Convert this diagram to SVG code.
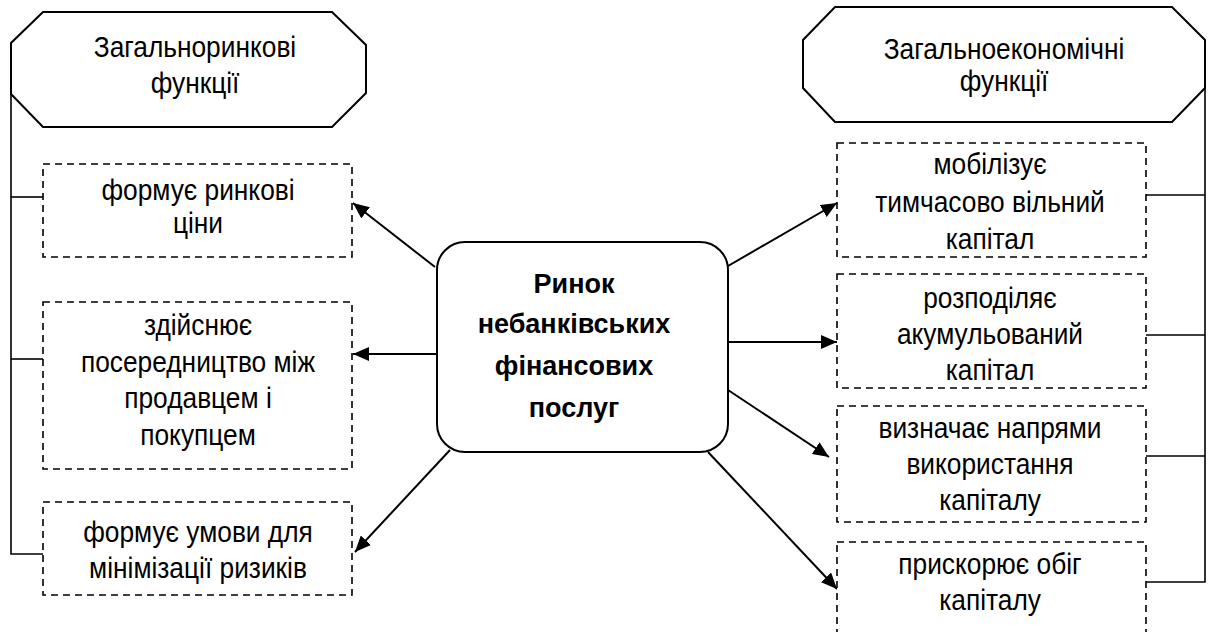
<svg xmlns="http://www.w3.org/2000/svg" width="1208" height="632" viewBox="0 0 1208 632">
<defs>
<style>
.oct{fill:#fff;stroke:#000;stroke-width:2}
.box{fill:#fff;stroke:#000;stroke-width:1.6;stroke-dasharray:7 5}
.core{fill:#fff;stroke:#000;stroke-width:2}
.ln{fill:none;stroke:#000;stroke-width:1.6}
.ar{fill:none;stroke:#000;stroke-width:2;marker-end:url(#ah)}
.t{font-family:"Liberation Sans",Arial,sans-serif;font-size:30px;text-anchor:middle;fill:#000;transform:scaleX(0.877);transform-box:fill-box;transform-origin:center}
.b{font-family:"Liberation Sans",Arial,sans-serif;font-size:27px;font-weight:bold;text-anchor:middle;fill:#000}
</style>
<marker id="ah" markerUnits="userSpaceOnUse" markerWidth="17" markerHeight="14" refX="16" refY="7" orient="auto">
<path d="M0,0 L16,7 L0,14 Z" fill="#000"/>
</marker>
</defs>
<rect width="1208" height="632" fill="#fff"/>
<g id="connectors">
<polyline class="ln" points="43,197 11,197"/>
<polyline class="ln" points="11,69 11,554 43,554"/>
<polyline class="ln" points="11,359 43,359"/>
<polyline class="ln" points="1146,195 1205,195"/>
<polyline class="ln" points="1205,65 1205,582 1146,582"/>
<polyline class="ln" points="1146,335 1205,335"/>
<polyline class="ln" points="1146,456 1205,456"/>
<line class="ar" x1="435" y1="267" x2="353" y2="203"/>
<line class="ar" x1="437" y1="354" x2="353" y2="354"/>
<line class="ar" x1="450" y1="450" x2="355" y2="552"/>
<line class="ar" x1="728" y1="266" x2="837" y2="203"/>
<line class="ar" x1="728" y1="342" x2="837" y2="342"/>
<line class="ar" x1="728" y1="390" x2="829" y2="457"/>
<line class="ar" x1="708" y1="452" x2="837" y2="589"/>
</g>
<g id="general-market">
<polygon class="oct" points="43,12 332,12 366,45 366,93 332,127 43,127 11,94 11,43"/>
<text class="t" x="195" y="57">Загальноринкові</text>
<text class="t" x="195" y="93">функції</text>
</g>
<g id="general-economic">
<polygon class="oct" points="835,7 1172,7 1205,40 1205,88 1172,122 835,122 803,88 803,40"/>
<text class="t" x="1004" y="59">Загальноекономічні</text>
<text class="t" x="1004" y="91">функції</text>
</g>
<g id="market">
<rect class="core" x="437" y="242" width="291" height="210" rx="28" ry="28"/>
<text class="b" x="574" y="293">Ринок</text>
<text class="b" x="574" y="333">небанківських</text>
<text class="b" x="574" y="375">фінансових</text>
<text class="b" x="574" y="417">послуг</text>
</g>
<g id="prices">
<rect class="box" x="43" y="164" width="309" height="93"/>
<text class="t" x="198" y="200">формує ринкові</text>
<text class="t" x="198" y="233">ціни</text>
</g>
<g id="mediation">
<rect class="box" x="43" y="302" width="309" height="167"/>
<text class="t" x="198" y="335">здійснює</text>
<text class="t" x="198" y="372">посередництво між</text>
<text class="t" x="198" y="408">продавцем і</text>
<text class="t" x="198" y="445">покупцем</text>
</g>
<g id="risks">
<rect class="box" x="43" y="502" width="309" height="93"/>
<text class="t" x="198" y="542">формує умови для</text>
<text class="t" x="198" y="578">мінімізації ризиків</text>
</g>
<g id="mobilize">
<rect class="box" x="837" y="143" width="309" height="114"/>
<text class="t" x="990" y="174">мобілізує</text>
<text class="t" x="990" y="212">тимчасово вільний</text>
<text class="t" x="990" y="249">капітал</text>
</g>
<g id="distribute">
<rect class="box" x="837" y="274" width="309" height="114"/>
<text class="t" x="990" y="308">розподіляє</text>
<text class="t" x="990" y="344">акумульований</text>
<text class="t" x="990" y="380">капітал</text>
</g>
<g id="directions">
<rect class="box" x="837" y="406" width="309" height="116"/>
<text class="t" x="990" y="438">визначає напрями</text>
<text class="t" x="990" y="474">використання</text>
<text class="t" x="990" y="510">капіталу</text>
</g>
<g id="accelerate">
<rect class="box" x="837" y="542" width="309" height="110"/>
<text class="t" x="990" y="574">прискорює обіг</text>
<text class="t" x="990" y="610">капіталу</text>
</g>
</svg>
